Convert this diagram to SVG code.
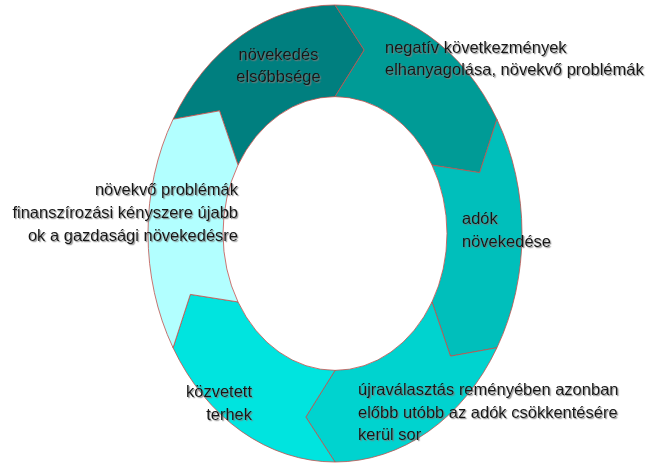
<svg xmlns="http://www.w3.org/2000/svg" width="650" height="463" viewBox="0 0 650 463">
<defs>
<filter id="sh" x="-5%" y="-20%" width="110%" height="140%">
<feDropShadow dx="1.2" dy="1.2" stdDeviation="0.6" flood-color="#7a7a7a" flood-opacity="0.8"/>
</filter>
</defs>
<style>
.seg{stroke:#C0504D;stroke-width:0.8;vector-effect:non-scaling-stroke}
.t{font-family:"Liberation Sans",Arial,sans-serif;font-size:16.5px;fill:#141414;filter:url(#sh)}
</style>
<rect width="650" height="463" fill="#ffffff"/>
<g id="node-novekedes-elsobbsege">
<path class="seg" fill="#007F7F" transform="translate(335,233.5) scale(1,1.222)" d="M-161.95,-93.5 A187,187 0 0 1 0,-187 L29.19,-150.18 L0,-112 A112,112 0 0 0 -96.99,-56 L-115.47,-100.38 Z"/>
<text class="t" text-anchor="middle"><tspan x="278.5" y="60">növekedés</tspan><tspan x="278.5" y="82">elsőbbsége</tspan></text>
</g>
<g id="node-negativ-kovetkezmenyek">
<path class="seg" fill="#009B96" transform="translate(335,233.5) scale(1,1.222)" d="M0,-187 A187,187 0 0 1 161.95,-93.5 L144.66,-49.82 L96.99,-56 A112,112 0 0 0 0,-112 L29.19,-150.18 Z"/>
<text class="t"><tspan x="385" y="53">negatív következmények</tspan><tspan x="385" y="75">elhanyagolása, növekvő problémák</tspan></text>
</g>
<g id="node-adok-novekedese">
<path class="seg" fill="#00BFBB" transform="translate(335,233.5) scale(1,1.222)" d="M161.95,-93.5 A187,187 0 0 1 161.95,93.5 L115.47,100.38 L96.99,56 A112,112 0 0 0 96.99,-56 L144.66,-49.82 Z"/>
<text class="t"><tspan x="462" y="224">adók</tspan><tspan x="462" y="246.5">növekedése</tspan></text>
</g>
<g id="node-ujravalasztas">
<path class="seg" fill="#00D3CF" transform="translate(335,233.5) scale(1,1.222)" d="M161.95,93.5 A187,187 0 0 1 0,187 L-29.19,150.18 L0,112 A112,112 0 0 0 96.99,56 L115.47,100.38 Z"/>
<text class="t"><tspan x="358" y="395">újraválasztás reményében azonban</tspan><tspan x="358" y="417.5">előbb utóbb az adók csökkentésére</tspan><tspan x="358" y="440">kerül sor</tspan></text>
</g>
<g id="node-kozvetett-terhek">
<path class="seg" fill="#00E4DF" transform="translate(335,233.5) scale(1,1.222)" d="M0,187 A187,187 0 0 1 -161.95,93.5 L-144.66,49.82 L-96.99,56 A112,112 0 0 0 0,112 L-29.19,150.18 Z"/>
<text class="t" text-anchor="end"><tspan x="252" y="397">közvetett</tspan><tspan x="252" y="420">terhek</tspan></text>
</g>
<g id="node-novekvo-problemak">
<path class="seg" fill="#B2FFFF" transform="translate(335,233.5) scale(1,1.222)" d="M-161.95,93.5 A187,187 0 0 1 -161.95,-93.5 L-115.47,-100.38 L-96.99,-56 A112,112 0 0 0 -96.99,56 L-144.66,49.82 Z"/>
<text class="t" text-anchor="end"><tspan x="238" y="195">növekvő problémák</tspan><tspan x="238" y="218">finanszírozási kényszere újabb</tspan><tspan x="238" y="241">ok a gazdasági növekedésre</tspan></text>
</g>
</svg>
